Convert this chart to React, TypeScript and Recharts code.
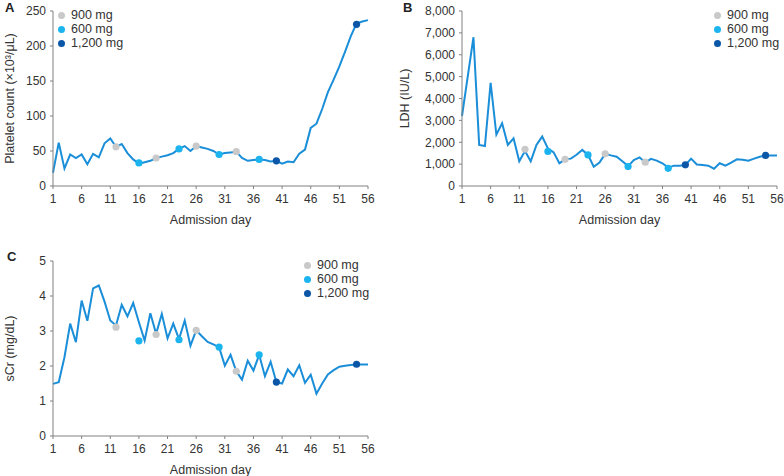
import React from 'react';
import { ComposedChart, Line, Scatter, XAxis, YAxis, Legend } from 'recharts';

const days = [1,2,3,4,5,6,7,8,9,10,11,12,13,14,15,16,17,18,19,20,21,22,23,24,25,26,27,28,29,30,31,32,33,34,35,36,37,38,39,40,41,42,43,44,45,46,47,48,49,50,51,52,53,54,55,56];
const xTicks = [1, 6, 11, 16, 21, 26, 31, 36, 41, 46, 51, 56];
const plateletTicks = [0, 50, 100, 150, 200, 250];
const ldhTicks = [0, 1000, 2000, 3000, 4000, 5000, 6000, 7000, 8000];
const scrTicks = [0, 1, 2, 3, 4, 5];

const platelet = [19,62,25,45,40,45,31,46,41,61,68,56,60,47,38,32,34,36,40,42,44,47,53,57,50,57,55,53,50,45,47,48,49,40,36,37,38,37,35,36,32,35,34,46,52,83,89,110,134,152,171,192,214,232,235,237];
const ldh = [3200,5000,6800,1880,1830,4720,2350,2870,1880,2180,1130,1600,1130,1880,2260,1720,1540,1040,1220,1250,1430,1650,1420,880,1070,1470,1400,1340,1130,910,1190,1310,1070,1240,1160,1040,840,930,930,960,1250,980,960,930,790,1040,930,1070,1220,1200,1160,1250,1340,1400,1400,1400];
const scr = [1.49,1.54,2.25,3.21,2.68,3.87,3.29,4.22,4.30,3.84,3.30,3.16,3.75,3.42,3.80,3.25,2.73,3.51,2.92,3.49,2.79,3.21,2.77,3.30,2.58,3.02,2.85,2.69,2.62,2.54,2.01,2.32,1.85,1.61,2.15,1.87,2.32,1.71,2.12,1.54,1.50,1.90,1.71,2.02,1.52,1.75,1.21,1.50,1.76,1.88,1.98,2.01,2.03,2.04,2.04,2.04];

const doseLabels = ['900 mg', '600 mg', '1,200 mg'];
const doseColors = ['#c9c9c9', '#1cb4ef', '#0b56a6'];
const dose900Days = [12, 19, 26, 33];
const dose600Days = [16, 23, 30, 37];
const dose1200Days = [40, 54];

const plateletDose900 = [56, 40, 57, 49];
const plateletDose600 = [33, 53, 45, 38];
const plateletDose1200 = [36, 231];

const ldhDose900 = [1680, 1220, 1470, 1090];
const ldhDose600 = [1580, 1420, 890, 810];
const ldhDose1200 = [970, 1400];

const scrDose900 = [3.11, 2.90, 3.02, 1.85];
const scrDose600 = [2.72, 2.75, 2.54, 2.32];
const scrDose1200 = [1.54, 2.05];

const LINE_COLOR = '#1a8ed8';
const AXIS_COLOR = '#808080';
const TEXT_COLOR = '#333333';

const toSeries = (xs: number[], ys: number[]) => xs.map((d, i) => ({ day: d, v: ys[i] }));

type PanelProps = {
  values: number[];
  markers: number[][][];
  yTicks: number[];
  yLabel: string;
  width: number;
  height: number;
  margin: { top: number; right: number; bottom: number; left: number };
  yAxisWidth: number;
  yLabelOffset: number;
  legendLeft: number;
  legendTop: number;
  fmt?: (v: number) => string;
  left: number;
  top: number;
};

const Dot = (color: string) => (props: any) => (
  <circle cx={props.cx} cy={props.cy} r={3.6} fill={color} stroke="none" />
);

const LegendBox = () => (
  <div style={{ fontSize: 12.5, color: TEXT_COLOR }}>
    {doseLabels.map((lab, i) => (
      <div key={lab} style={{ display: 'flex', alignItems: 'center', height: 14, lineHeight: '14px', whiteSpace: 'nowrap' }}>
        <span style={{ display: 'inline-block', width: 7, height: 7, borderRadius: '50%', background: doseColors[i], marginRight: 6 }} />
        <span>{lab}</span>
      </div>
    ))}
  </div>
);

function Panel(p: PanelProps) {
  const data = days.map((d, i) => ({ day: d, v: p.values[i] }));
  const yMax = p.yTicks[p.yTicks.length - 1];
  return (
    <div style={{ position: 'absolute', left: p.left, top: p.top }}>
      <ComposedChart width={p.width} height={p.height} data={data} margin={p.margin}>
        <XAxis
          type="number"
          dataKey="day"
          domain={[1, 56]}
          ticks={xTicks}
          interval={0}
          height={40}
          tickSize={3}
          tickMargin={5}
          stroke={AXIS_COLOR}
          tick={{ fontSize: 12, fill: TEXT_COLOR }}
          label={{ value: 'Admission day', position: 'insideBottom', offset: 2, fontSize: 12.5, fill: TEXT_COLOR }}
        />
        <YAxis
          type="number"
          domain={[0, yMax]}
          ticks={p.yTicks}
          interval={0}
          width={p.yAxisWidth}
          tickSize={3}
          tickMargin={4}
          stroke={AXIS_COLOR}
          tick={{ fontSize: 12, fill: TEXT_COLOR }}
          tickFormatter={p.fmt}
          label={{ value: p.yLabel, angle: -90, position: 'insideLeft', offset: p.yLabelOffset, fontSize: 12.5, fill: TEXT_COLOR, style: { textAnchor: 'middle' } }}
        />
        <Line type="linear" dataKey="v" stroke={LINE_COLOR} strokeWidth={2} dot={false} activeDot={false} isAnimationActive={false} />
        {p.markers.map((m, i) => (
          <Scatter
            key={doseLabels[i]}
            name={doseLabels[i]}
            data={toSeries(m[0], m[1])}
            dataKey="v"
            fill={doseColors[i]}
            shape={Dot(doseColors[i])}
            isAnimationActive={false}
          />
        ))}
        <Legend
          layout="vertical"
          align="center"
          verticalAlign="middle"
          wrapperStyle={{ left: p.legendLeft, top: p.legendTop, width: 90 }}
          content={() => <LegendBox />}
        />
      </ComposedChart>
    </div>
  );
}

const fmtThousands = (v: number) => v.toLocaleString('en-US');

export default function App() {
  return (
    <div style={{ position: 'absolute', left: 0, top: 0, width: 784, height: 476, background: '#fff', fontFamily: '"Liberation Sans", Arial, sans-serif' }}>
      <svg width={784} height={476} style={{ position: 'absolute', left: 0, top: 0 }}>
        <text x={5} y={12} fontSize={13} fontWeight="bold" fill="#222">A</text>
        <text x={403} y={12} fontSize={13} fontWeight="bold" fill="#222">B</text>
        <text x={7} y={261} fontSize={13} fontWeight="bold" fill="#222">C</text>
      </svg>
      <Panel
        left={0}
        top={0}
        width={390}
        height={230}
        margin={{ top: 11, right: 22, bottom: 4, left: 0 }}
        yAxisWidth={53}
        yLabelOffset={10}
        values={platelet}
        markers={[[dose900Days, plateletDose900], [dose600Days, plateletDose600], [dose1200Days, plateletDose1200]]}
        yTicks={plateletTicks}
        yLabel="Platelet count (×10³/μL)"
        legendLeft={58}
        legendTop={8}
      />
      <Panel
        left={390}
        top={0}
        width={394}
        height={230}
        margin={{ top: 11, right: 7, bottom: 4, left: 0 }}
        yAxisWidth={72}
        yLabelOffset={15}
        values={ldh}
        markers={[[dose900Days, ldhDose900], [dose600Days, ldhDose600], [dose1200Days, ldhDose1200]]}
        yTicks={ldhTicks}
        yLabel="LDH (IU/L)"
        fmt={fmtThousands}
        legendLeft={324}
        legendTop={8}
      />
      <Panel
        left={0}
        top={240}
        width={390}
        height={236}
        margin={{ top: 21, right: 22, bottom: 0, left: 0 }}
        yAxisWidth={53}
        yLabelOffset={10}
        values={scr}
        markers={[[dose900Days, scrDose900], [dose600Days, scrDose600], [dose1200Days, scrDose1200]]}
        yTicks={scrTicks}
        yLabel="sCr (mg/dL)"
        legendLeft={304}
        legendTop={18}
      />
    </div>
  );
}
